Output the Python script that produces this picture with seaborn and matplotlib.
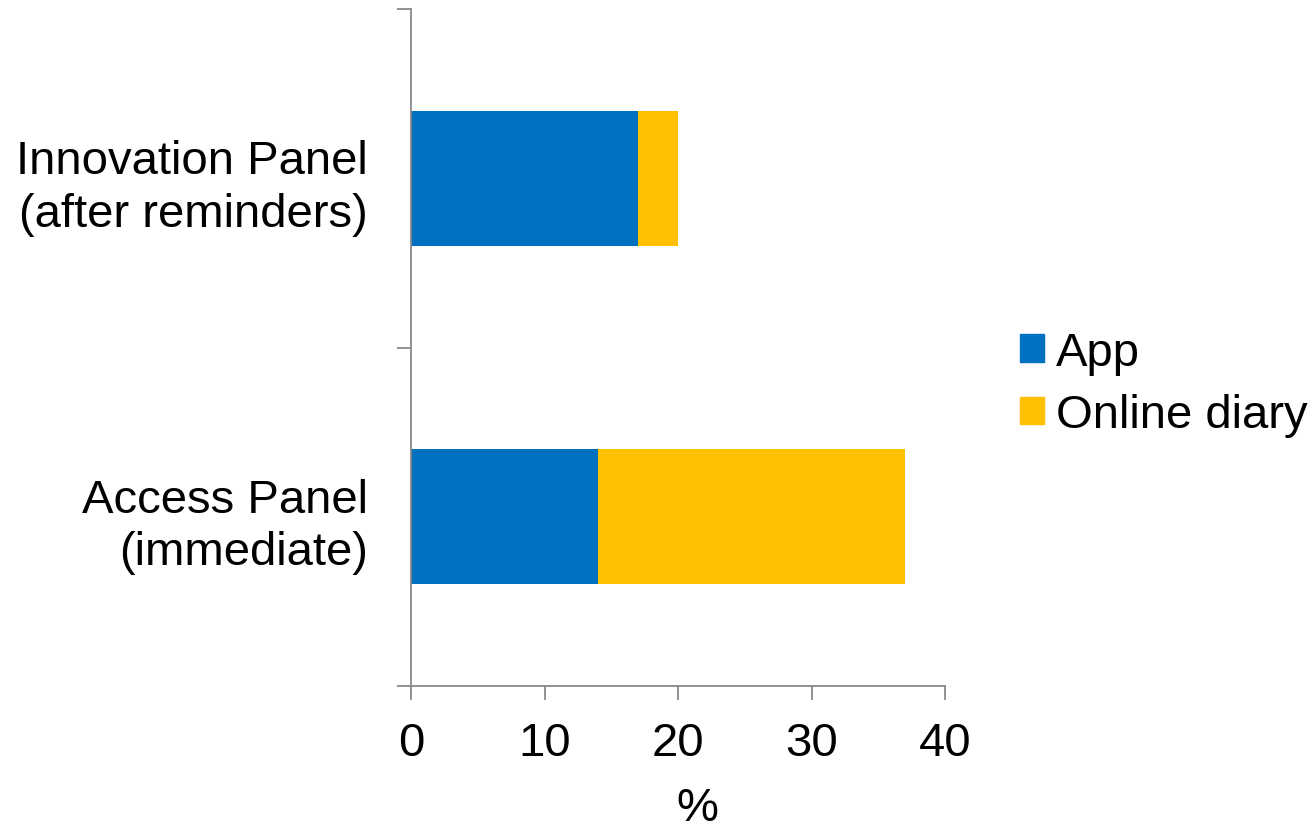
import pandas as pd
import matplotlib.pyplot as plt
import seaborn as sns
from matplotlib.patches import Patch

# datos
categorias = ['Innovation Panel\n(after reminders)', 'Access Panel\n(immediate)']
app = [17, 14]
online_diary = [3, 23]
x_ticks = [0, 10, 20, 30, 40]

color_app = '#0070C0'
color_diary = '#FFC000'
color_eje = '#898989'
fs = 34

sns.set_theme(style='white')
plt.rcParams['font.family'] = ['Liberation Sans', 'DejaVu Sans']
plt.rcParams['text.color'] = 'black'
plt.rcParams['xtick.labelcolor'] = 'black'
plt.rcParams['ytick.labelcolor'] = 'black'
plt.rcParams['axes.labelcolor'] = 'black'

df = pd.DataFrame({'cat': categorias, 'app': app, 'diary': online_diary})
df['total'] = df['app'] + df['diary']

fig = plt.figure(figsize=(13.13, 8.29), dpi=100)
ax = fig.add_axes([411 / 1313, 1 - 687 / 829, (945 - 411) / 1313, (687 - 10) / 829])

# barra total (amarilla) y encima la de App (azul)
sns.barplot(data=df, x='total', y='cat', orient='h', color=color_diary,
            width=0.4, saturation=1, linewidth=0, ax=ax)
sns.barplot(data=df, x='app', y='cat', orient='h', color=color_app,
            width=0.4, saturation=1, linewidth=0, ax=ax)

ax.set_xlim(0, 40)
ax.set_ylim(1.5, -0.5)
ax.set_xticks(x_ticks)
ax.set_yticks([-0.5, 0.5, 1.5], minor=True)

for lado in ['top', 'right']:
    ax.spines[lado].set_visible(False)
for lado in ['left', 'bottom']:
    ax.spines[lado].set_color(color_eje)
    ax.spines[lado].set_linewidth(1.3)

ax.tick_params(axis='x', which='major', length=10, width=1.3, color=color_eje,
               direction='out', labelsize=fs, pad=15, bottom=True)
ax.tick_params(axis='y', which='major', length=0, labelsize=fs, pad=31)
ax.tick_params(axis='y', which='minor', length=10, width=1.3, color=color_eje,
               direction='out', left=True)
for t in ax.get_yticklabels():
    t.set_horizontalalignment('right')
    t.set_multialignment('right')
    t.set_linespacing(1.25)

ax.set_ylabel('')
ax.set_xlabel('%', fontsize=fs)
ax.xaxis.set_label_coords((697 - 411) / 534, -0.148)

handles = [Patch(color=color_app, label='App'),
           Patch(color=color_diary, label='Online diary')]
fig.legend(handles=handles, loc='center left', bbox_to_anchor=(1001 / 1313, 1 - 385 / 829),
           frameon=False, fontsize=fs, handlelength=0.52, handleheight=0.52,
           handletextpad=0.25, labelspacing=0.4, borderaxespad=0)

plt.savefig('out.png', dpi=100)
